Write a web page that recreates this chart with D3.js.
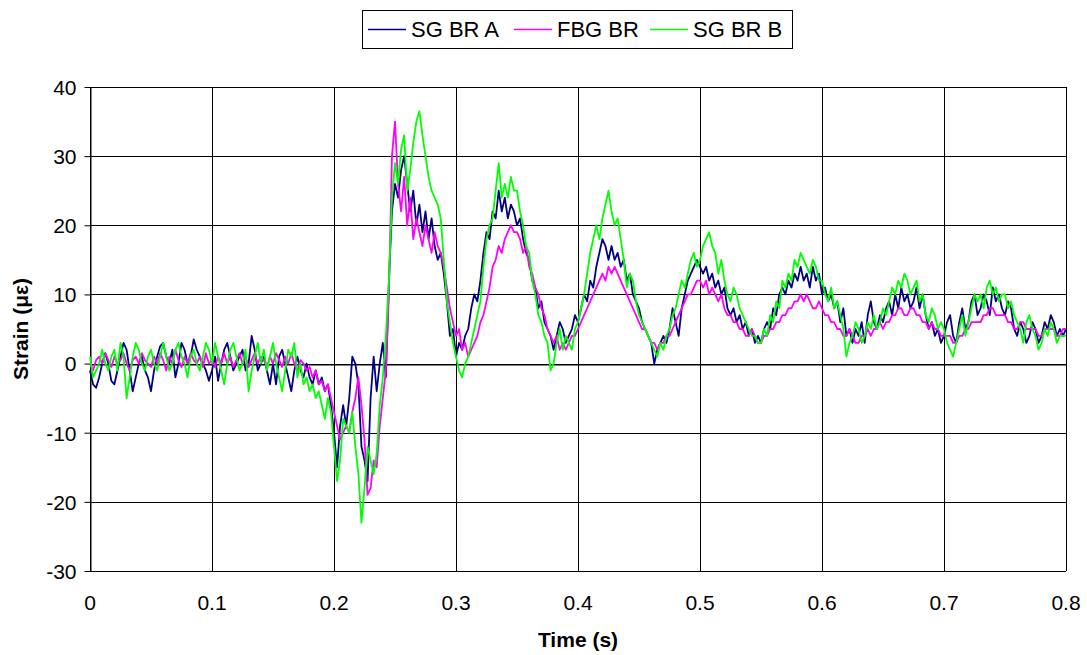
<!DOCTYPE html>
<html lang="en">
<head>
<meta charset="UTF-8">
<script src="https://d3js.org/d3.v7.min.js"></script>
<style>
  body { margin: 0; background: #fff; }
  text { font-family: "Liberation Sans", Arial, sans-serif; }
</style>
</head>
<body>
<div id="chart"></div>
<script>
// sampled every 2.5 ms, 20 values per row (0.05 s), plus the end point at 0.8 s
var step = 0.0025;
var sgA = [
  -1, -3, -3.5, -2, 0, 1.5, 0, -2.5, -3, -1, 1, 3, 2, -1, -4, -2, 0, 1, -1, -2,
  -4, -1, 1, 2.5, 3, 1, 0, 2, -2, 0, 3, 2, 0, 1, 3.5, 2, 1, 0, -1, -2.5,
  -1, 1, -2.5, 0, 2, 3, 1, -1, 0, 1, 2, -1, 0, 4, 2, -1, 0, 1, -1, -3,
  0, -3, 1, 2, 0, -2, -4, -1, 1, -1, -2, 0, -2, -3, -1, -3, -2, -4, -3, -6,
  -10, -15, -9, -6, -9, -5, 1, 0, -3, -12, -14, -17, -5, 1, -4, 0, 3, -2, 12, 22,
  26, 24, 28, 30, 26, 22, 25, 20, 23, 19, 22, 18, 21, 17, 15, 16, 13, 9, 4, 5,
  1, 3, 2, 4, 5, 8, 10, 9, 12, 16, 19, 18, 22, 21, 25, 22, 24, 21, 23, 22,
  20, 21, 18, 16, 15, 12, 11, 8, 9, 6, 5, 4, 2, 4, 6, 5, 3, 4, 5, 7,
  6, 8, 10, 9, 12, 11, 14, 16, 18, 17, 15, 17, 15, 16, 14, 15, 12, 13, 10, 9,
  8, 6, 5, 4, 3, 0, 2, 3, 4, 3, 5, 8, 6, 4, 8, 10, 12, 13, 14, 15,
  14, 13, 14, 12, 13, 11, 12, 10, 11, 8, 7, 8, 6, 7, 5, 6, 4, 5, 3, 4,
  3, 5, 6, 5, 8, 7, 10, 11, 10, 12, 11, 13, 12, 14, 12, 13, 11, 14, 12, 13,
  10, 11, 9, 10, 8, 9, 6, 8, 4, 5, 3, 5, 4, 6, 3, 7, 9, 6, 5, 7,
  6, 8, 9, 7, 10, 8, 11, 9, 10, 8, 9, 11, 8, 10, 7, 5, 6, 4, 5, 3,
  4, 6, 7, 4, 3, 6, 8, 5, 6, 9, 10, 7, 8, 10, 9, 7, 11, 9, 10, 8,
  7, 9, 8, 5, 4, 6, 5, 3, 4, 6, 5, 3, 4, 6, 5, 7, 6, 4, 5, 4,
  5
];
var fbg = [
  0, -1, 0.5, 1, 0, 1.5, 0.5, -0.5, 1, 0, 0.5, 1.5, 0, -1, 0.5, 1, 0, 1.5, 0.5, 0,
  -0.5, 1, 0, 1.5, 0.5, -1, 1, 0, 2, 0.5, -0.5, 1, 0, 1.5, 0.5, 0, 1, -0.5, 1.5, 0,
  0.5, -0.5, 1, 0, 1.5, 0, 1, -0.5, 0.5, 1.5, 0, 1, -0.5, 0.5, 1.5, 0, 1, 0.5, -0.5, 1,
  0, 1.5, 0.5, -0.5, 1, 0, 1.5, 0, -1, 0.5, 0, -1, -0.5, -2, -1, -3, -2.5, -4, -3, -5,
  -7, -9, -11, -10, -9, -10, -7, -5, -2, -6, -11, -19, -18, -14, -15, -9, -5, -1, 10, 30,
  35, 26, 22, 27, 20, 24, 18, 21, 19, 17, 20, 18, 16, 19, 17, 16, 14, 11, 8, 6,
  4, 5, 2, 3, 1, 2, 3, 4, 6, 7, 9, 11, 14, 15, 17, 16, 18, 19, 20, 19,
  19, 18, 16, 17, 14, 13, 11, 10, 8, 7, 5, 4, 3, 4, 2, 3, 2, 3, 4, 4,
  5, 6, 7, 8, 9, 10, 11, 12, 13, 12, 14, 13, 14, 13, 12, 11, 10, 9, 8, 7,
  6, 5, 5, 4, 3, 3, 2, 3, 3, 4, 4, 5, 6, 7, 8, 9, 10, 10, 11, 12,
  12, 11, 12, 10, 11, 10, 9, 10, 8, 7, 7, 6, 6, 5, 5, 4, 4, 5, 4, 3,
  3, 4, 4, 5, 5, 6, 6, 7, 7, 8, 8, 9, 9, 10, 9, 10, 9, 8, 8, 9,
  8, 7, 7, 6, 6, 5, 5, 4, 4, 5, 4, 3, 3, 4, 4, 5, 4, 5, 5, 6,
  5, 6, 6, 7, 7, 8, 8, 7, 7, 8, 8, 7, 7, 6, 6, 5, 6, 5, 5, 4,
  4, 4, 4, 3, 3, 4, 4, 5, 5, 6, 6, 6, 6, 7, 7, 8, 8, 7, 7, 7,
  7, 6, 6, 5, 5, 6, 6, 5, 5, 5, 5, 4, 4, 5, 5, 5, 5, 4, 4, 5,
  5
];
var sgB = [
  1, -2, -1, 0, 2, 0, -1, 1, 2, -1, 3, 1, -5, -2, 1, 3, 2, 0, -1, 1,
  2, 0, -1, 1, 3, 1, -1, 0, 2, 3, 1, 0, -2, 1, 2, 0, -1, 1, 3, 2,
  0, 3, 1, -1, -3, 0, 2, 3, 1, -1, 0, 2, -4, -1, 1, 3, 0, 2, -1, 1,
  3, 0, -2, -4, -1, 2, 1, 3, -2, 0, -3, -2, -4, -3, -5, -4, -6, -8, -5, -7,
  -12, -17, -14, -8, -9, -10, -7, -12, -16, -23, -18, -12, -14, -16, -13, -6, -2, 4, 12, 24,
  29, 26, 31, 33, 25, 28, 32, 35, 36.5, 33, 30, 27, 25, 24, 23, 21, 15, 9, 6, 3,
  1, -1, -2, 0, 1, 3, 5, 7, 9, 14, 18, 20, 21, 25, 29, 24, 26, 24, 27, 25,
  25, 22, 20, 17, 16, 12, 10, 7, 6, 4, 3, -1, 0, 3, 5, 2, 4, 3, 2, 5,
  6, 8, 10, 13, 16, 18, 20, 18, 21, 23, 25, 22, 20, 21, 18, 15, 11, 13, 12, 9,
  7, 6, 5, 4, 3, 2, 1, 3, 2, 4, 5, 7, 8, 10, 12, 11, 13, 15, 16, 14,
  15, 17, 18, 19, 17, 16, 13, 15, 12, 10, 9, 11, 10, 8, 7, 6, 5, 4, 4, 3,
  3, 5, 4, 7, 6, 9, 8, 12, 11, 13, 12, 15, 14, 16, 15, 14, 13, 15, 14, 12,
  12, 10, 9, 11, 8, 9, 7, 5, 1, 3, 4, 6, 5, 3, 4, 6, 5, 7, 5, 6,
  8, 7, 9, 11, 10, 12, 11, 13, 12, 10, 11, 12, 9, 10, 7, 6, 8, 7, 5, 6,
  5, 3, 2, 1, 3, 5, 7, 4, 6, 8, 10, 9, 10, 8, 11, 12, 10, 11, 9, 10,
  10, 8, 9, 7, 6, 5, 3, 6, 7, 5, 4, 2, 3, 5, 4, 6, 5, 3, 4, 4,
  4
];
var seriesNames = ["SG BR A", "FBG BR", "SG BR B"];
var seriesColors = ["#000080", "#ff00ff", "#00ff00"];
var xTicks = [0, 0.1, 0.2, 0.3, 0.4, 0.5, 0.6, 0.7, 0.8];
var yTicks = [-30, -20, -10, 0, 10, 20, 30, 40];

var width = 1087, height = 655;
var plotLeft = 90, plotRight = 1066, plotTop = 87, plotBottom = 571;

var svg = d3.select("#chart").append("svg")
    .attr("width", width)
    .attr("height", height);

var x = d3.scaleLinear().domain([0, 0.8]).range([plotLeft, plotRight]);
var y = d3.scaleLinear().domain([-30, 40]).range([plotBottom, plotTop]);

// grid
svg.append("g").selectAll("line").data(yTicks).enter().append("line")
    .attr("x1", plotLeft).attr("x2", plotRight)
    .attr("y1", function(d) { return Math.round(y(d)) + 0.5; })
    .attr("y2", function(d) { return Math.round(y(d)) + 0.5; })
    .attr("stroke", "#000").attr("stroke-width", 1);
svg.append("g").selectAll("line").data(xTicks).enter().append("line")
    .attr("y1", plotTop).attr("y2", plotBottom)
    .attr("x1", function(d) { return Math.round(x(d)) + 0.5; })
    .attr("x2", function(d) { return Math.round(x(d)) + 0.5; })
    .attr("stroke", "#000").attr("stroke-width", 1);

// y axis (left) with outside ticks, plain hyphen for negatives
var yAxis = svg.append("g")
    .attr("transform", "translate(" + (plotLeft + 0.5) + ",0)")
    .call(d3.axisLeft(y).tickValues(yTicks).tickSize(6).tickPadding(8).tickSizeOuter(0)
        .tickFormat(function(d) { return String(d); }));
yAxis.select(".domain").attr("stroke", "#000");
yAxis.selectAll("text").attr("font-size", "21px").attr("fill", "#000")
    .attr("dy", "0.35em")
    .style("font-family", "'Liberation Sans', Arial, sans-serif");

// x axis line at zero, ticks pointing down, labels below the plot
var xAxis = svg.append("g")
    .attr("transform", "translate(0," + (Math.round(y(0)) + 0.5) + ")")
    .call(d3.axisBottom(x).tickValues(xTicks).tickSize(6).tickSizeOuter(0).tickFormat(""));
xAxis.select(".domain").attr("stroke", "#000");

svg.append("g").selectAll("text").data(xTicks).enter().append("text")
    .attr("x", function(d) { return x(d); })
    .attr("y", plotBottom + 39)
    .attr("text-anchor", "middle")
    .attr("font-size", "21px")
    .text(function(d) { return d; });

// lines
var line = d3.line()
    .x(function(d, i) { return x(i * step); })
    .y(function(d) { return y(d); });

[sgA, fbg, sgB].forEach(function(s, k) {
    svg.append("path")
        .datum(s)
        .attr("fill", "none")
        .attr("stroke", seriesColors[k])
        .attr("stroke-width", 1.8)
        .attr("stroke-linejoin", "round")
        .attr("d", line);
});

// axis titles
svg.append("text")
    .attr("x", (plotLeft + plotRight) / 2)
    .attr("y", 647)
    .attr("text-anchor", "middle")
    .attr("font-size", "21px")
    .attr("font-weight", "bold")
    .text("Time (s)");

svg.append("text")
    .attr("transform", "translate(28," + ((plotTop + plotBottom) / 2) + ") rotate(-90)")
    .attr("text-anchor", "middle")
    .attr("font-size", "21px")
    .attr("font-weight", "bold")
    .text("Strain (\u03bc\u03b5)");

// legend
var legend = svg.append("g");
legend.append("rect")
    .attr("x", 362.5).attr("y", 10.5)
    .attr("width", 430).attr("height", 38)
    .attr("fill", "#fff").attr("stroke", "#000");
var legendX = [368, 514, 650];
seriesNames.forEach(function(n, k) {
    legend.append("line")
        .attr("x1", legendX[k]).attr("x2", legendX[k] + 38)
        .attr("y1", 29.5).attr("y2", 29.5)
        .attr("stroke", seriesColors[k]).attr("stroke-width", 1.6);
    legend.append("text")
        .attr("x", legendX[k] + 43)
        .attr("y", 37)
        .attr("font-size", "22px")
        .text(n);
});
</script>
</body>
</html>
